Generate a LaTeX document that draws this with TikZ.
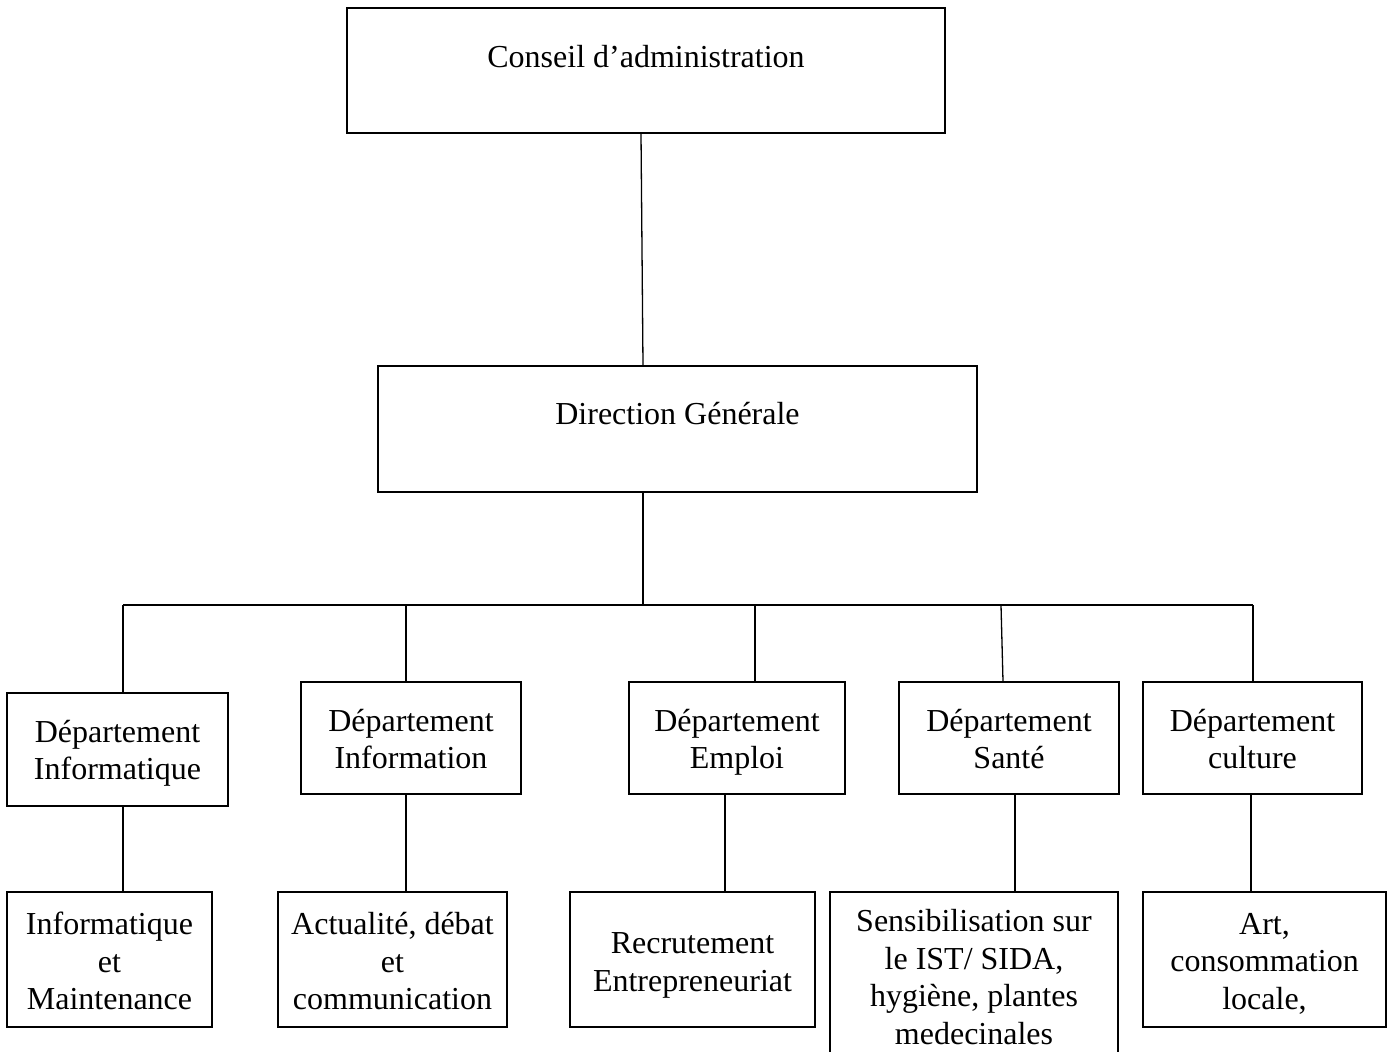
\documentclass[tikz,border=0pt]{standalone}
\usepackage{fontspec}
\setmainfont{Liberation Serif}
\begin{document}
\begin{tikzpicture}[x=1pt,y=-1pt,
  box/.style={draw,line width=1.6pt,rectangle,inner sep=0pt},
  txt/.style={align=center,inner sep=0pt,font=\fontsize{32}{37.5}\selectfont,
    execute at begin node=\strut, execute at end node=\strut},
  conn/.style={line width=1.3pt}]
\useasboundingbox[fill=white] (0,0) rectangle (1392,1052);
% top levels
\node[box, minimum width=598pt, minimum height=125pt] (cons) at (646,70.5) {};
\node[txt] (consT) at ([yshift=10.5pt]cons.center) {Conseil d’administration};
\node[box, minimum width=599pt, minimum height=126pt] (dg) at (677.5,429) {};
\node[txt] (dgT) at ([yshift=12pt]dg.center) {Direction Générale};
% departments
\node[box, minimum width=221pt, minimum height=113pt] (d1) at (117.5,749.5) {};
\node[txt] (d1T) at ([yshift=-6pt]d1.center) {Département\\Informatique};
\node[box, minimum width=220pt, minimum height=112pt] (d2) at (411,738) {};
\node[txt] (d2T) at ([yshift=-6.5pt]d2.center) {Département\\Information};
\node[box, minimum width=216pt, minimum height=112pt] (d3) at (737,738) {};
\node[txt] (d3T) at ([yshift=-6.5pt]d3.center) {Département\\Emploi};
\node[box, minimum width=220pt, minimum height=112pt] (d4) at (1009,738) {};
\node[txt] (d4T) at ([yshift=-6.5pt]d4.center) {Département\\Santé};
\node[box, minimum width=219pt, minimum height=112pt] (d5) at (1252.5,738) {};
\node[txt] (d5T) at ([yshift=-6.5pt]d5.center) {Département\\culture};
% sub boxes
\node[box, minimum width=205pt, minimum height=135pt] (s1) at (109.5,959.5) {};
\node[txt] (s1T) at ([yshift=-7pt]s1.center) {Informatique\\et\\Maintenance};
\node[box, minimum width=229pt, minimum height=135pt] (s2) at (392.5,959.5) {};
\node[txt] (s2T) at ([yshift=-7pt]s2.center) {Actualité, débat\\et\\communication};
\node[box, minimum width=245pt, minimum height=135pt] (s3) at (692.5,959.5) {};
\node[txt] (s3T) at ([yshift=-8pt]s3.center) {Recrutement\\Entrepreneuriat};
\node[box, minimum width=243pt, minimum height=135pt] (s5) at (1264.5,959.5) {};
\node[txt] (s5T) at ([yshift=-7.5pt]s5.center) {Art,\\consommation\\locale,};
% open-bottom box
\coordinate (s4nw) at (830,892);
\coordinate (s4ne) at (1118,892);
\coordinate (s4sw) at (830,1052);
\coordinate (s4se) at (1118,1052);
\draw[line width=1.6pt] (s4sw) -- (s4nw) -- (s4ne) -- (s4se);
\node[txt] (s4) at (974,982.5) {Sensibilisation sur\\le IST/ SIDA,\\hygiène, plantes\\medecinales};
% bus coordinates
\coordinate (bm) at (643,605);
\coordinate (b1) at (123,605);
\coordinate (b2) at (406,605);
\coordinate (b3) at (755,605);
\coordinate (b4) at (1001,605);
\coordinate (b5) at (1253,605);
% connectors
\draw[conn] ([xshift=-5pt]cons.south) -- ([xshift=-34.5pt]dg.north);
\draw[conn] ([xshift=-34.5pt]dg.south) -- (bm);
\draw[conn] (b1) -- (b5);
\draw[conn] (b1) -- (b1 |- d1.north);
\draw[conn] (b2) -- (b2 |- d2.north);
\draw[conn] (b3) -- (b3 |- d3.north);
\draw[conn] (b4) -- ([xshift=-6pt]d4.north);
\draw[conn] (b5) -- (b5 |- d5.north);
% lower connectors
\coordinate (c1) at (123,0);
\coordinate (c2) at (406,0);
\coordinate (c3) at (725,0);
\coordinate (c4) at (1015,0);
\coordinate (c5) at (1251,0);
\draw[conn] (d1.south -| c1) -- (s1.north -| c1);
\draw[conn] (d2.south -| c2) -- (s2.north -| c2);
\draw[conn] (d3.south -| c3) -- (s3.north -| c3);
\draw[conn] (d4.south -| c4) -- (s4nw -| c4);
\draw[conn] (d5.south -| c5) -- (s5.north -| c5);
\end{tikzpicture}
\end{document}
